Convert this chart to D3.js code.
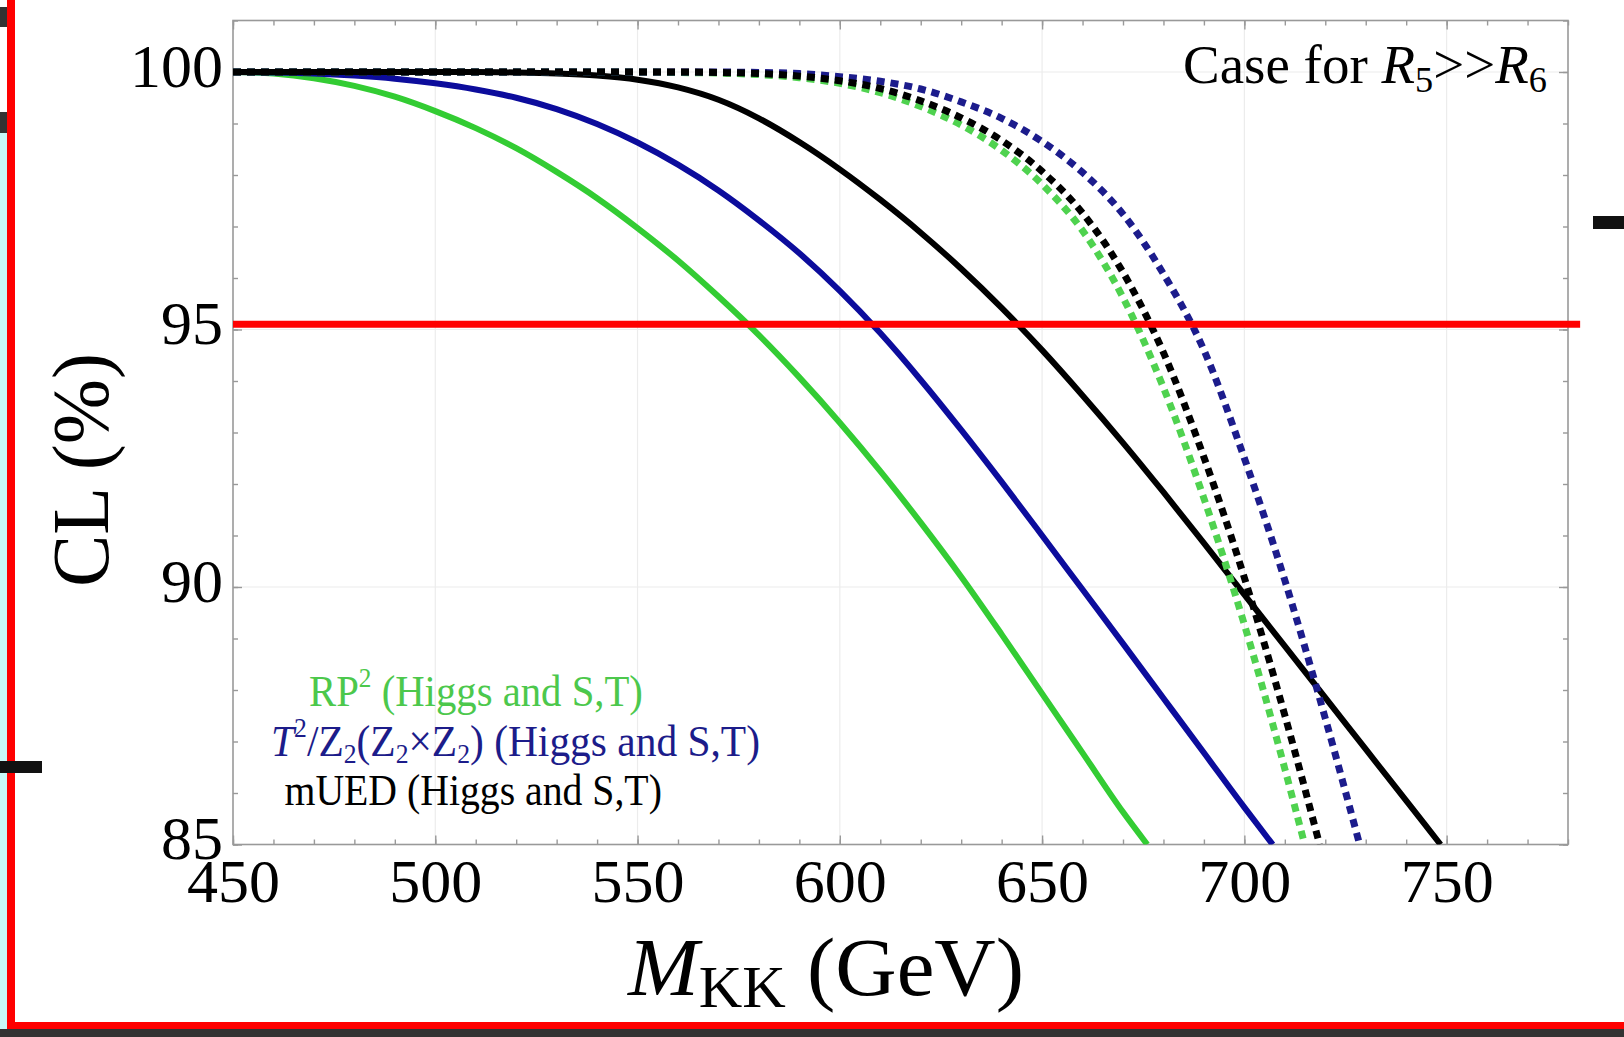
<!DOCTYPE html>
<html lang="en">
<head>
<meta charset="UTF-8">
<title>CL vs M_KK</title>
<script src="https://cdnjs.cloudflare.com/ajax/libs/d3/7.8.5/d3.min.js"></script>
<style>
  body { margin: 0; background: #fff; }
  svg { display: block; }
  text { font-family: "Liberation Serif", "DejaVu Serif", serif; }
</style>
</head>
<body>
<script>

// ---- data ----
var xMajor = [450, 500, 550, 600, 650, 700, 750];
var xMinor = d3.range(450, 781, 10);
var yMajor = [85, 90, 95, 100];
var yMinor = d3.range(85, 102, 1);
var refLevel = 95.1;          // red 95% line
var refEnd = 783;

var greenSolidM  = [450, 460, 470, 480, 490, 500, 510, 520, 530, 540, 550, 560, 570, 580, 590, 600, 610, 620, 630, 640, 650, 660, 670, 676];
var greenSolidCL = [100, 99.97, 99.88, 99.73, 99.52, 99.24, 98.91, 98.52, 98.06, 97.55, 96.97, 96.34, 95.64, 94.89, 94.07, 93.19, 92.25, 91.25, 90.2, 89.08, 87.93, 86.78, 85.63, 85.0];

var blueSolidM  = [450, 460, 470, 480, 490, 500, 510, 520, 530, 540, 550, 560, 570, 580, 590, 600, 610, 620, 630, 640, 650, 660, 670, 680, 690, 700, 707];
var blueSolidCL = [100, 99.99, 99.97, 99.93, 99.87, 99.78, 99.66, 99.5, 99.28, 98.99, 98.63, 98.2, 97.7, 97.12, 96.48, 95.75, 94.93, 94.02, 93.05, 92.04, 91.0, 89.95, 88.9, 87.84, 86.78, 85.72, 85.0];

var blackSolidM  = [450, 480, 500, 510, 520, 530, 540, 550, 560, 570, 580, 590, 600, 610, 620, 630, 640, 650, 660, 670, 680, 690, 700, 710, 720, 730, 740, 748.5];
var blackSolidCL = [100, 100, 100, 100, 99.99, 99.97, 99.93, 99.85, 99.7, 99.46, 99.1, 98.64, 98.11, 97.52, 96.88, 96.18, 95.42, 94.6, 93.72, 92.8, 91.84, 90.85, 89.85, 88.85, 87.85, 86.85, 85.85, 85.0];

var greenDotM  = [450, 500, 550, 560, 570, 580, 590, 600, 610, 620, 630, 640, 650, 660, 670, 680, 690, 700, 710, 714.9];
var greenDotCL = [100, 100, 100, 99.99, 99.98, 99.95, 99.89, 99.78, 99.6, 99.33, 98.97, 98.48, 97.82, 96.92, 95.62, 93.87, 91.72, 89.27, 86.47, 85.0];

var blueDotM  = [450, 500, 550, 560, 570, 580, 590, 600, 610, 620, 630, 640, 650, 660, 670, 680, 690, 700, 710, 720, 728.5];
var blueDotCL = [100, 100, 100, 100, 100, 99.99, 99.97, 99.91, 99.82, 99.67, 99.42, 99.1, 98.65, 98.05, 97.24, 96.08, 94.6, 92.5, 90.13, 87.45, 85.0];

var blackDotM  = [450, 500, 550, 560, 570, 580, 590, 600, 610, 620, 630, 640, 650, 660, 670, 680, 690, 700, 710, 718.6];
var blackDotCL = [100, 100, 100, 100, 99.99, 99.97, 99.92, 99.83, 99.68, 99.44, 99.11, 98.67, 98.07, 97.26, 96.11, 94.55, 92.52, 90.18, 87.51, 85.0];

function pairs(ms, cls) {
    return ms.map(function (m, i) { return [m, cls[i]]; });
}

var curves = [
    { pts: pairs(greenSolidM, greenSolidCL), color: "#33cc33", width: 6, dash: null },
    { pts: pairs(blueSolidM, blueSolidCL), color: "#0c0c9c", width: 6, dash: null },
    { pts: pairs(blackSolidM, blackSolidCL), color: "#000000", width: 6, dash: null },
    { pts: pairs(greenDotM, greenDotCL), color: "#4fd24f", width: 7, dash: "8,6" },
    { pts: pairs(blueDotM, blueDotCL), color: "#1c1c8c", width: 7, dash: "8,6" },
    { pts: pairs(blackDotM, blackDotCL), color: "#000000", width: 7, dash: "8,6" }
];

// ---- layout ----
var width = 1624, height = 1037;

var svg = d3.select("body").append("svg")
    .attr("width", width)
    .attr("height", height);

svg.append("rect").attr("width", width).attr("height", height).attr("fill", "#ffffff");

// screenshot edges
svg.append("rect").attr("x", 0).attr("y", 133).attr("width", 7).attr("height", 896).attr("fill", "#c8f8f8");
svg.append("rect").attr("x", 0).attr("y", 7).attr("width", 7).attr("height", 20).attr("fill", "#333");
svg.append("rect").attr("x", 0).attr("y", 112).attr("width", 7).attr("height", 21).attr("fill", "#333");
svg.append("rect").attr("x", 7).attr("y", 0).attr("width", 8).attr("height", 1029).attr("fill", "#ff0000");
svg.append("rect").attr("x", 7).attr("y", 1022).attr("width", width - 7).attr("height", 7).attr("fill", "#ff0000");
svg.append("rect").attr("x", 0).attr("y", 1029).attr("width", width).attr("height", 8).attr("fill", "#333");
svg.append("rect").attr("x", 0).attr("y", 761).attr("width", 42).attr("height", 12).attr("fill", "#111");
svg.append("rect").attr("x", 1593).attr("y", 216).attr("width", 31).attr("height", 13).attr("fill", "#111");

var x = d3.scaleLinear().domain([450, 780]).range([233, 1568]);
var y = d3.scaleLinear().domain([85, 101]).range([844.5, 20.5]);

var plot = svg.append("g");

// grid
plot.selectAll(".vgrid")
    .data(xMajor.slice(1))
    .enter().append("line")
    .attr("x1", function (d) { return x(d); })
    .attr("x2", function (d) { return x(d); })
    .attr("y1", y(85)).attr("y2", y(101))
    .attr("stroke", "#ececec").attr("stroke-width", 1.2);

plot.selectAll(".hgrid")
    .data(yMajor.slice(1))
    .enter().append("line")
    .attr("x1", x(450)).attr("x2", x(780))
    .attr("y1", function (d) { return y(d); })
    .attr("y2", function (d) { return y(d); })
    .attr("stroke", "#ececec").attr("stroke-width", 1.2);

// axes (frame ticks point inward)
function styleAxis(g) {
    g.select(".domain").remove();
    g.selectAll("line").attr("stroke", "#999").attr("stroke-width", 1.4);
    g.attr("font-family", null).attr("font-size", null);
}

var gBottom = svg.append("g").attr("transform", "translate(0," + y(85) + ")")
    .call(d3.axisBottom(x).tickValues(xMajor).tickSize(-9).tickFormat(d3.format("d")))
    .call(styleAxis);
gBottom.selectAll("text")
    .attr("y", 57.5).attr("dy", null)
    .attr("font-size", "62px").attr("fill", "#000");

svg.append("g").attr("transform", "translate(0," + y(85) + ")")
    .call(d3.axisBottom(x).tickValues(xMinor).tickSize(-5).tickFormat(""))
    .call(styleAxis);
svg.append("g").attr("transform", "translate(0," + y(101) + ")")
    .call(d3.axisTop(x).tickValues(xMajor).tickSize(-9).tickFormat(""))
    .call(styleAxis);
svg.append("g").attr("transform", "translate(0," + y(101) + ")")
    .call(d3.axisTop(x).tickValues(xMinor).tickSize(-5).tickFormat(""))
    .call(styleAxis);

var gLeft = svg.append("g").attr("transform", "translate(" + x(450) + ",0)")
    .call(d3.axisLeft(y).tickValues(yMajor).tickSize(-9).tickPadding(10).tickFormat(d3.format("d")))
    .call(styleAxis);
gLeft.selectAll("text")
    .attr("dy", null).attr("y", 14)
    .attr("font-size", "62px").attr("fill", "#000");

svg.append("g").attr("transform", "translate(" + x(450) + ",0)")
    .call(d3.axisLeft(y).tickValues(yMinor).tickSize(-5).tickFormat(""))
    .call(styleAxis);
svg.append("g").attr("transform", "translate(" + x(780) + ",0)")
    .call(d3.axisRight(y).tickValues(yMajor).tickSize(-9).tickFormat(""))
    .call(styleAxis);
svg.append("g").attr("transform", "translate(" + x(780) + ",0)")
    .call(d3.axisRight(y).tickValues(yMinor).tickSize(-5).tickFormat(""))
    .call(styleAxis);

// frame
svg.append("rect")
    .attr("x", x(450)).attr("y", y(101))
    .attr("width", x(780) - x(450)).attr("height", y(85) - y(101))
    .attr("fill", "none").attr("stroke", "#999").attr("stroke-width", 1.6);

// curves
var line = d3.line()
    .x(function (d) { return x(d[0]); })
    .y(function (d) { return y(d[1]); })
    .curve(d3.curveMonotoneX);

svg.append("clipPath").attr("id", "clip")
    .append("rect")
    .attr("x", x(450)).attr("y", y(101))
    .attr("width", x(780) - x(450)).attr("height", y(85) - y(101));

var curveGroup = svg.append("g").attr("clip-path", "url(#clip)");

curves.forEach(function (c) {
    curveGroup.append("path")
        .datum(c.pts)
        .attr("d", line)
        .attr("fill", "none")
        .attr("stroke", c.color)
        .attr("stroke-width", c.width)
        .attr("stroke-dasharray", c.dash);
});

// red 95% line
svg.append("line")
    .attr("x1", x(450)).attr("x2", x(refEnd))
    .attr("y1", y(refLevel)).attr("y2", y(refLevel))
    .attr("stroke", "#ff0000").attr("stroke-width", 7);

// ---- texts ----
// parts: {t, i (italic), sup, sub}
function richText(parent, parts, size, opts) {
    opts = opts || {};
    var subRatio = opts.subRatio || 0.62;
    var subShift = opts.subShift || 0.2;
    var supShift = opts.supShift || 0.42;
    var t = parent.append("text").attr("font-size", size).attr("fill", opts.fill || "#000");
    var shift = 0;
    parts.forEach(function (p) {
        var target = p.sup ? -supShift * size : (p.sub ? subShift * size : 0);
        var ts = t.append("tspan").text(p.t).attr("dy", target - shift);
        if (p.sup || p.sub) ts.attr("font-size", size * subRatio);
        if (p.i) ts.attr("font-style", "italic");
        shift = target;
    });
    return t;
}

// place text starting at (x0, base) and stretch/squeeze it to a given width
function fit(t, x0, base, target, rotate) {
    var w = t.node().getBBox().width;
    var sx = target / w;
    var tr = "translate(" + x0 + "," + base + ")";
    if (rotate) tr += " rotate(" + rotate + ")";
    t.attr("transform", tr + " scale(" + sx + ",1)");
}

// case label
var caseText = richText(svg, [
    { t: "Case for " }, { t: "R", i: true }, { t: "5", sub: true },
    { t: ">>" }, { t: "R", i: true }, { t: "6", sub: true }
], 54, { subRatio: 0.66, subShift: 0.17 });
fit(caseText, 1183, 83, 364);

// legend texts
var leg1 = richText(svg, [
    { t: "RP" }, { t: "2", sup: true }, { t: " (Higgs and S,T)" }
], 45, { fill: "#4cc84c", subShift: 0.16 });
fit(leg1, 309, 706, 334);

var leg2 = richText(svg, [
    { t: "T", i: true }, { t: "2", sup: true }, { t: "/Z" }, { t: "2", sub: true },
    { t: "(Z" }, { t: "2", sub: true }, { t: "\u00d7Z" }, { t: "2", sub: true },
    { t: ") (Higgs and S,T)" }
], 45, { fill: "#1c1c8a", subShift: 0.16 });
fit(leg2, 271, 756, 489);

var leg3 = richText(svg, [
    { t: "mUED (Higgs and S,T)" }
], 45, { fill: "#000" });
fit(leg3, 284.5, 805, 377.5);

// axis titles
var xTitle = richText(svg, [
    { t: "M", i: true }, { t: "KK", sub: true }, { t: " (GeV)" }
], 82, { subRatio: 0.71, subShift: 0.15 });
fit(xTitle, 628, 995, 397);

var yTitle = richText(svg, [{ t: "CL (%)" }], 80);
fit(yTitle, 108, 587, 234, -90);

</script>
</body>
</html>
